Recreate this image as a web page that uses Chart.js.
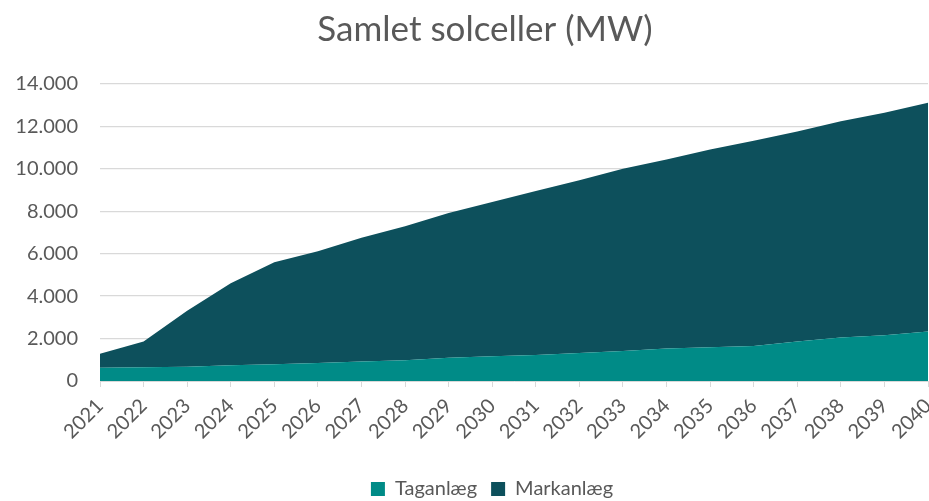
<!DOCTYPE html>
<html>
<head>
<meta charset="utf-8">
<script src="https://cdn.jsdelivr.net/npm/chart.js@4/dist/chart.umd.min.js"></script>
<style>
  html, body { margin: 0; padding: 0; background: #fff; }
  #wrap { width: 929px; height: 501px; }
</style>
</head>
<body>
<div id="wrap"><canvas id="c" width="929" height="501"></canvas></div>
<script>
const years = ['2021','2022','2023','2024','2025','2026','2027','2028','2029','2030',
               '2031','2032','2033','2034','2035','2036','2037','2038','2039','2040'];
const taganlaeg = [620, 650, 670, 740, 790, 850, 915, 975, 1100, 1170,
                   1230, 1325, 1420, 1530, 1590, 1655, 1860, 2050, 2160, 2335];
const markanlaeg = [670, 1210, 2640, 3865, 4810, 5270, 5835, 6325, 6815, 7270,
                    7730, 8135, 8580, 8910, 9320, 9665, 9900, 10200, 10490, 10785];
const yTicks = [0, 2000, 4000, 6000, 8000, 10000, 12000, 14000];

const FONT = 'Lato, "Open Sans", sans-serif';
const TXT = '#595959';

function fmt(v) {
  return String(Math.round(v)).replace(/\B(?=(\d{3})+(?!\d))/g, '.');
}

// Shift the horizontally centred title and legend to match the reference's centring.
const shiftPlugin = {
  id: 'shiftBlocks',
  afterLayout(chart) {
    if (chart.titleBlock) chart.titleBlock.left = 42;
    if (chart.legend) chart.legend.left = 56;
  }
};

new Chart(document.getElementById('c'), {
  type: 'line',
  data: {
    labels: years,
    datasets: [
      { label: 'Taganlæg', data: taganlaeg, backgroundColor: '#008B87', borderColor: '#008B87',
        borderWidth: 0, pointRadius: 0, fill: 'origin', tension: 0 },
      { label: 'Markanlæg', data: markanlaeg, backgroundColor: '#0D505C', borderColor: '#0D505C',
        borderWidth: 0, pointRadius: 0, fill: '-1', tension: 0 }
    ]
  },
  plugins: [shiftPlugin],
  options: {
    responsive: false,
    animation: false,
    events: [],
    layout: { padding: { left: 0, right: 1, top: 0, bottom: -8 } },
    plugins: {
      title: {
        display: true, text: 'Samlet solceller (MW)', color: TXT,
        font: { family: FONT, size: 35, weight: 'normal' },
        padding: { top: 9, bottom: 33 }
      },
      legend: {
        position: 'bottom',
        labels: { color: TXT, font: { family: FONT, size: 20 }, boxWidth: 14, boxHeight: 14, padding: 14 }
      },
      tooltip: { enabled: false }
    },
    scales: {
      x: {
        offset: false,
        grid: { display: true, drawOnChartArea: false, drawTicks: true, tickLength: 6, color: '#d9d9d9' },
        border: { color: '#d9d9d9', width: 1 },
        ticks: { color: TXT, font: { family: FONT, size: 20 }, minRotation: 45, maxRotation: 45, autoSkip: false, padding: 7 },
        afterFit: (s) => { s.height = 84; s.paddingLeft = 0; s.paddingRight = 0; }
      },
      y: {
        stacked: true,
        min: 0, max: 14000,
        afterBuildTicks: (s) => { s.ticks = yTicks.map(v => ({ value: v })); },
        grid: { color: '#d9d9d9', lineWidth: 1.3, drawTicks: false },
        border: { display: false },
        ticks: { color: TXT, font: { family: FONT, size: 20 }, padding: 22, callback: (v) => fmt(v) },
        afterFit: (s) => { s.width = 100; s.paddingTop = 0; s.paddingBottom = 0; }
      }
    }
  }
});
</script>
</body>
</html>
